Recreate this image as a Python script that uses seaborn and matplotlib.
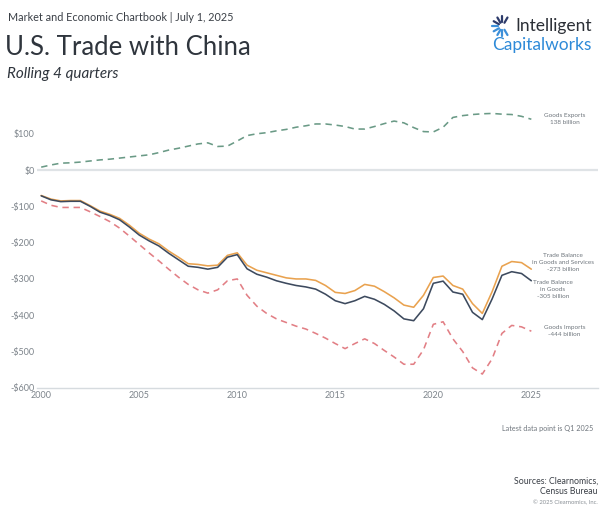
import numpy as np
import pandas as pd
import matplotlib.pyplot as plt
import seaborn as sns

####################################
years = [2000 + 0.5 * i for i in range(51)]

goods_services = [
    -70, -80, -85, -84, -84, -98, -113, -122, -133, -152,
    -174, -190, -203, -223, -240, -258, -260, -264, -262, -235,
    -228, -262, -276, -283, -290, -297, -300, -300, -304, -318,
    -337, -340, -332, -315, -320, -335, -352, -372, -378, -345,
    -296, -292, -318, -328, -368, -395, -335, -265, -252, -255,
    -273
]

goods_balance = [
    -71, -82, -87, -86, -86, -100, -116, -125, -137, -157,
    -179, -195, -209, -229, -247, -265, -268, -273, -268, -240,
    -233, -272, -287, -295, -305, -312, -318, -322, -328, -342,
    -360, -368, -360, -348, -356, -370, -388, -410, -415, -382,
    -312, -306, -336, -342, -392, -412, -355, -290, -280, -285,
    -305
]

goods_imports = [
    -85, -97, -103, -103, -103, -115, -128, -142, -160, -182,
    -205, -228, -250, -273, -295, -315, -330, -339, -330, -305,
    -300, -345, -375, -395, -410, -420, -430, -438, -450, -463,
    -478, -492, -478, -465, -478, -497, -515, -535, -535, -495,
    -425, -418, -465, -500, -545, -562, -520, -450, -428, -432,
    -444
]

goods_exports = [
    8, 14, 19, 20, 22, 25, 28, 30, 33, 36,
    39, 42, 48, 55, 60, 66, 72, 75, 65, 66,
    80, 95, 100, 103, 108, 112, 118, 122, 127, 127,
    124, 120, 113, 113, 120, 128, 135, 130, 117, 106,
    105, 118, 145, 150, 153, 155, 156, 154, 153, 148,
    140
]

series_names = ['Goods Exports', 'Goods Imports', 'Trade Balance in Goods and Services',
                'Trade Balance in Goods']
labels = ['Goods Exports\n138 billion', 'Goods Imports\n-444 billion',
          'Trade Balance\nin Goods and Services\n-273 billion',
          'Trade Balance\nin Goods\n-305 billion']
yticks = [100, 0, -100, -200, -300, -400, -500, -600]
ytick_labels = ['$100', '$0', '-$100', '-$200', '-$300', '-$400', '-$500', '-$600']
xticks = [2000, 2005, 2010, 2015, 2020, 2025]
####################################

df = pd.DataFrame({
    'year': years * 4,
    'value': goods_exports + goods_imports + goods_services + goods_balance,
    'series': [s for s in series_names for _ in years],
})

sns.set_theme(style='white')
plt.rcParams['font.family'] = ['Lato', 'DejaVu Sans']

palette = {
    'Goods Exports': '#6a9a86',
    'Goods Imports': '#e27f85',
    'Trade Balance in Goods and Services': '#e9a24f',
    'Trade Balance in Goods': '#3d4a5e',
}
dashes = {
    'Goods Exports': (4, 3),
    'Goods Imports': (4, 3),
    'Trade Balance in Goods and Services': '',
    'Trade Balance in Goods': '',
}

fig = plt.figure(figsize=(6.01, 5.05), dpi=100)
ax = fig.add_axes([0.062, 0.232, 0.933, 0.575])

ax.axhline(0, color='#dfe3e6', lw=1.6, zorder=0)
sns.lineplot(data=df, x='year', y='value', hue='series', style='series',
             palette=palette, dashes=dashes, lw=1.15, ax=ax, legend=False)

ax.set_xlim(1999.8, 2028.4)
ax.set_ylim(-600, 200)
ax.set_yticks(yticks)
ax.set_yticklabels(ytick_labels)
ax.set_xticks(xticks)
ax.set_xlabel('')
ax.set_ylabel('')
ax.tick_params(axis='both', length=0, labelsize=6.5, colors='#7d848b', pad=2)
for side in ['top', 'right', 'left']:
    ax.spines[side].set_visible(False)
ax.spines['bottom'].set_color('#d6dbdf')
ax.spines['bottom'].set_linewidth(1)

# series labels at the right
lab_pos = [(2026.7, 141, 'center'), (2026.7, -443, 'center'),
           (2026.6, -254, 'center'), (2026.1, -330, 'center')]
for (x, y, ha), txt in zip(lab_pos, labels):
    ax.text(x, y, txt, fontsize=4.6, color='#6f767d', ha=ha, va='center',
            linespacing=1.5)

# header
fig.text(0.013, 0.966, 'Market and Economic Chartbook | July 1, 2025', fontsize=7.8,
         color='#3a3f46', va='center')
fig.text(0.008, 0.905, 'U.S. Trade with China', fontsize=18.5, color='#2f353d',
         va='center')
fig.text(0.011, 0.853, 'Rolling 4 quarters', fontsize=11, style='italic',
         color='#2f353d', va='center')

# logo
fig.text(0.985, 0.948, 'Intelligent', fontsize=12.5, color='#2b2f36', ha='right',
         va='center')
fig.text(0.985, 0.911, 'Capitalworks', fontsize=12.5, color='#2e8ad8', ha='right',
         va='center')
cx, cy = 0.836, 0.948
for ang in np.linspace(60, 300, 9):
    a = np.deg2rad(ang)
    r0, r1 = 0.008, 0.020
    col = '#2d3b6b' if ang < 180 else '#3c8fd9'
    fig.add_artist(plt.Line2D([cx + r0 * np.cos(a) * 0.84, cx + r1 * np.cos(a) * 0.84],
                              [cy + r0 * np.sin(a), cy + r1 * np.sin(a)],
                              color=col, lw=1.6, transform=fig.transFigure))

# footer
fig.text(0.987, 0.152, 'Latest data point is Q1 2025', fontsize=5.2, color='#6f767d',
         ha='right', va='center')
fig.text(0.995, 0.018, 'Sources: Clearnomics,\nCensus Bureau', fontsize=6.3,
         color='#3a3f46', ha='right', va='bottom', linespacing=1.2)
fig.text(0.995, 0.0, '© 2025 Clearnomics, Inc.', fontsize=4.2, color='#8a9096',
         ha='right', va='bottom')

plt.savefig('out.png', dpi=100)
